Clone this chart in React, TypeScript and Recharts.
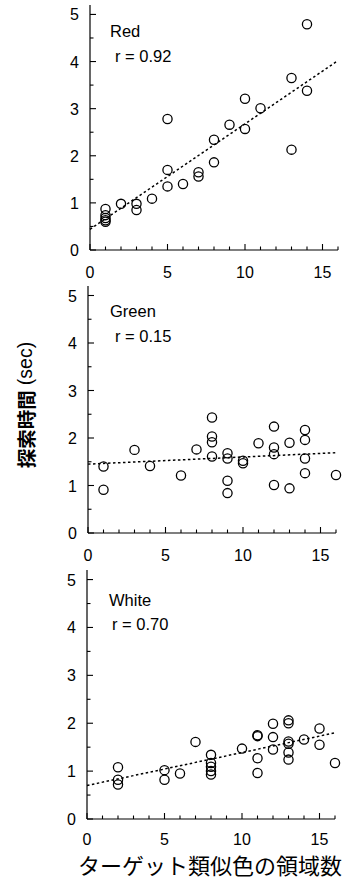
import React from 'react';
import { ScatterChart, Scatter, XAxis, YAxis, ReferenceLine } from 'recharts';

// axis ticks (every unit on x, every half unit on y; labels only on the majors)
const X_TICKS = [0, 1, 2, 3, 4, 5, 6, 7, 8, 9, 10, 11, 12, 13, 14, 15, 16];
const X_LABELS = [0, 5, 10, 15];
const Y_TICKS = [0, 0.5, 1, 1.5, 2, 2.5, 3, 3.5, 4, 4.5, 5];
const Y_LABELS = [0, 1, 2, 3, 4, 5];

// Red
const RED_X = [1, 1, 1, 1, 1, 2, 3, 3, 4, 5, 5, 5, 6, 7, 7, 8, 8, 9, 10, 10, 11, 13, 13, 14, 14];
const RED_Y = [0.87, 0.74, 0.68, 0.63, 0.6, 0.98, 0.98, 0.85, 1.09, 2.78, 1.7, 1.35, 1.4, 1.65, 1.56, 2.34, 1.86, 2.66, 3.21, 2.57, 3.01, 3.65, 2.13, 4.79, 3.38];
const RED_FIT = [0.44, 4.02];

// Green
const GREEN_X = [1, 1, 3, 4, 6, 7, 8, 8, 8, 8, 9, 9, 9, 9, 10, 10, 11, 12, 12, 12, 12, 13, 13, 14, 14, 14, 14, 16];
const GREEN_Y = [1.4, 0.91, 1.75, 1.41, 1.21, 1.76, 2.43, 2.03, 1.91, 1.61, 1.68, 1.57, 1.1, 0.84, 1.52, 1.47, 1.89, 2.24, 1.8, 1.66, 1.01, 1.9, 0.94, 2.17, 1.96, 1.57, 1.26, 1.22];
const GREEN_FIT = [1.45, 1.69];

// White
const WHITE_X = [2, 2, 2, 5, 5, 6, 7, 8, 8, 8, 8, 8, 10, 11, 11, 11, 11, 12, 12, 12, 13, 13, 13, 13, 13, 13, 14, 15, 15, 16];
const WHITE_Y = [1.08, 0.82, 0.72, 1.02, 0.82, 0.95, 1.61, 1.34, 1.17, 1.09, 1.0, 0.93, 1.47, 1.75, 1.73, 1.27, 0.96, 1.99, 1.71, 1.45, 2.06, 2.0, 1.62, 1.57, 1.39, 1.24, 1.66, 1.89, 1.55, 1.17];
const WHITE_FIT = [0.7, 1.8];

const FONT = '"Liberation Sans", Arial, sans-serif';
const CJK = '"Noto Sans CJK JP", sans-serif';

function makeBottomTick(labelGap: number) {
  return function BottomTick({ x, y, payload }: any) {
    const v = payload.value;
    const len = v % 5 === 0 ? 6 : 3.5;
    return (
      <g>
        <line x1={x} x2={x} y1={y} y2={y - len} stroke="#000" strokeWidth={1.1} />
        {X_LABELS.includes(v) && (
          <text x={x} y={y + labelGap} textAnchor="middle" fontSize={16} fontFamily={FONT} fill="#000">{v}</text>
        )}
      </g>
    );
  };
}

function TopTick({ x, y, payload }: any) {
  const len = payload.value % 5 === 0 ? 6 : 3.5;
  return <line x1={x} x2={x} y1={y} y2={y + len} stroke="#000" strokeWidth={1.1} />;
}

function LeftTick({ x, y, payload }: any) {
  const v = payload.value;
  const len = Number.isInteger(v) ? 6 : 3.5;
  return (
    <g>
      <line x1={x} x2={x + len} y1={y} y2={y} stroke="#000" strokeWidth={1.1} />
      {Y_LABELS.includes(v) && (
        <text x={x - 11} y={y + 6} textAnchor="end" fontSize={16} fontFamily={FONT} fill="#000">{v}</text>
      )}
    </g>
  );
}

function RightTick({ x, y, payload }: any) {
  const len = Number.isInteger(payload.value) ? 6 : 3.5;
  return <line x1={x} x2={x - len} y1={y} y2={y} stroke="#000" strokeWidth={1.1} />;
}

function Ring({ cx, cy }: any) {
  return <circle cx={cx} cy={cy} r={4.6} fill="none" stroke="#000" strokeWidth={1.3} />;
}

const AXIS_LINE = { stroke: '#000', strokeWidth: 1.2 };

function Panel({ xs, ys, fit, top, left, right, bottom, labelGap }: any) {
  const data = xs.map((x: number, i: number) => ({ x, y: ys[i] }));
  const chartTop = top - 5;
  const height = bottom - chartTop + 30;
  return (
    <div style={{ position: 'absolute', left: 0, top: chartTop }}>
      <ScatterChart width={351} height={height} margin={{ top: 5, right: 351 - right, bottom: 0, left: 0 }}>
        <XAxis
          xAxisId="b" type="number" dataKey="x" domain={[0, 16]} ticks={X_TICKS} interval={0}
          tickSize={0} tickMargin={0} tickLine={false} axisLine={AXIS_LINE} tick={makeBottomTick(labelGap)} height={30}
        />
        <XAxis
          xAxisId="t" orientation="top" type="number" domain={[0, 16]} ticks={X_TICKS} interval={0}
          tickSize={0} tickMargin={0} tickLine={false} axisLine={AXIS_LINE} tick={TopTick} height={0} allowDataOverflow
        />
        <YAxis
          yAxisId="l" type="number" dataKey="y" domain={[0, 5.2]} ticks={Y_TICKS} interval={0}
          tickSize={0} tickMargin={0} tickLine={false} axisLine={AXIS_LINE} tick={LeftTick} width={left}
        />
        <YAxis
          yAxisId="r" orientation="right" type="number" domain={[0, 5.2]} ticks={Y_TICKS} interval={0}
          tickSize={0} tickMargin={0} tickLine={false} axisLine={AXIS_LINE} tick={RightTick} width={0} allowDataOverflow
        />
        <ReferenceLine
          xAxisId="b" yAxisId="l"
          segment={[{ x: 0, y: fit[0] }, { x: 16, y: fit[1] }]}
          stroke="#000" strokeWidth={1.5} strokeDasharray="2.5 2.5"
        />
        <Scatter xAxisId="b" yAxisId="l" data={data} shape={Ring} isAnimationActive={false} />
      </ScatterChart>
    </div>
  );
}

export default function App() {
  return (
    <div style={{ position: 'absolute', left: 0, top: 0, width: 351, height: 891, background: '#fff' }}>
      <Panel xs={RED_X} ys={RED_Y} fit={RED_FIT} top={5} left={90} right={338} bottom={250} labelGap={28} />
      <Panel xs={GREEN_X} ys={GREEN_Y} fit={GREEN_FIT} top={286} left={88} right={336} bottom={533} labelGap={28} />
      <Panel xs={WHITE_X} ys={WHITE_Y} fit={WHITE_FIT} top={570} left={87} right={335} bottom={819} labelGap={26} />
      <svg width={351} height={891} style={{ position: 'absolute', left: 0, top: 0, pointerEvents: 'none' }}>
        <g fontFamily={FONT} fontSize={16.5} fill="#000">
          <text x={110} y={37}>Red</text>
          <text x={115} y={62}>r = 0.92</text>
          <text x={110} y={317}>Green</text>
          <text x={115} y={342}>r = 0.15</text>
          <text x={109} y={606}>White</text>
          <text x={112} y={630}>r = 0.70</text>
        </g>
        <text
          x={25} y={405} transform="rotate(-90, 25, 405)" textAnchor="middle" dominantBaseline="central"
          fill="#000"
        >
          <tspan fontFamily={CJK} fontWeight="bold" fontSize={19.5}>探索時間</tspan>
          <tspan fontFamily={FONT} fontSize={19.5} dx={5}>(sec)</tspan>
        </text>
        <text x={210} y={864} textAnchor="middle" dominantBaseline="central" fontFamily={CJK} fontSize={22} fill="#000">
          ターゲット類似色の領域数
        </text>
      </svg>
    </div>
  );
}
